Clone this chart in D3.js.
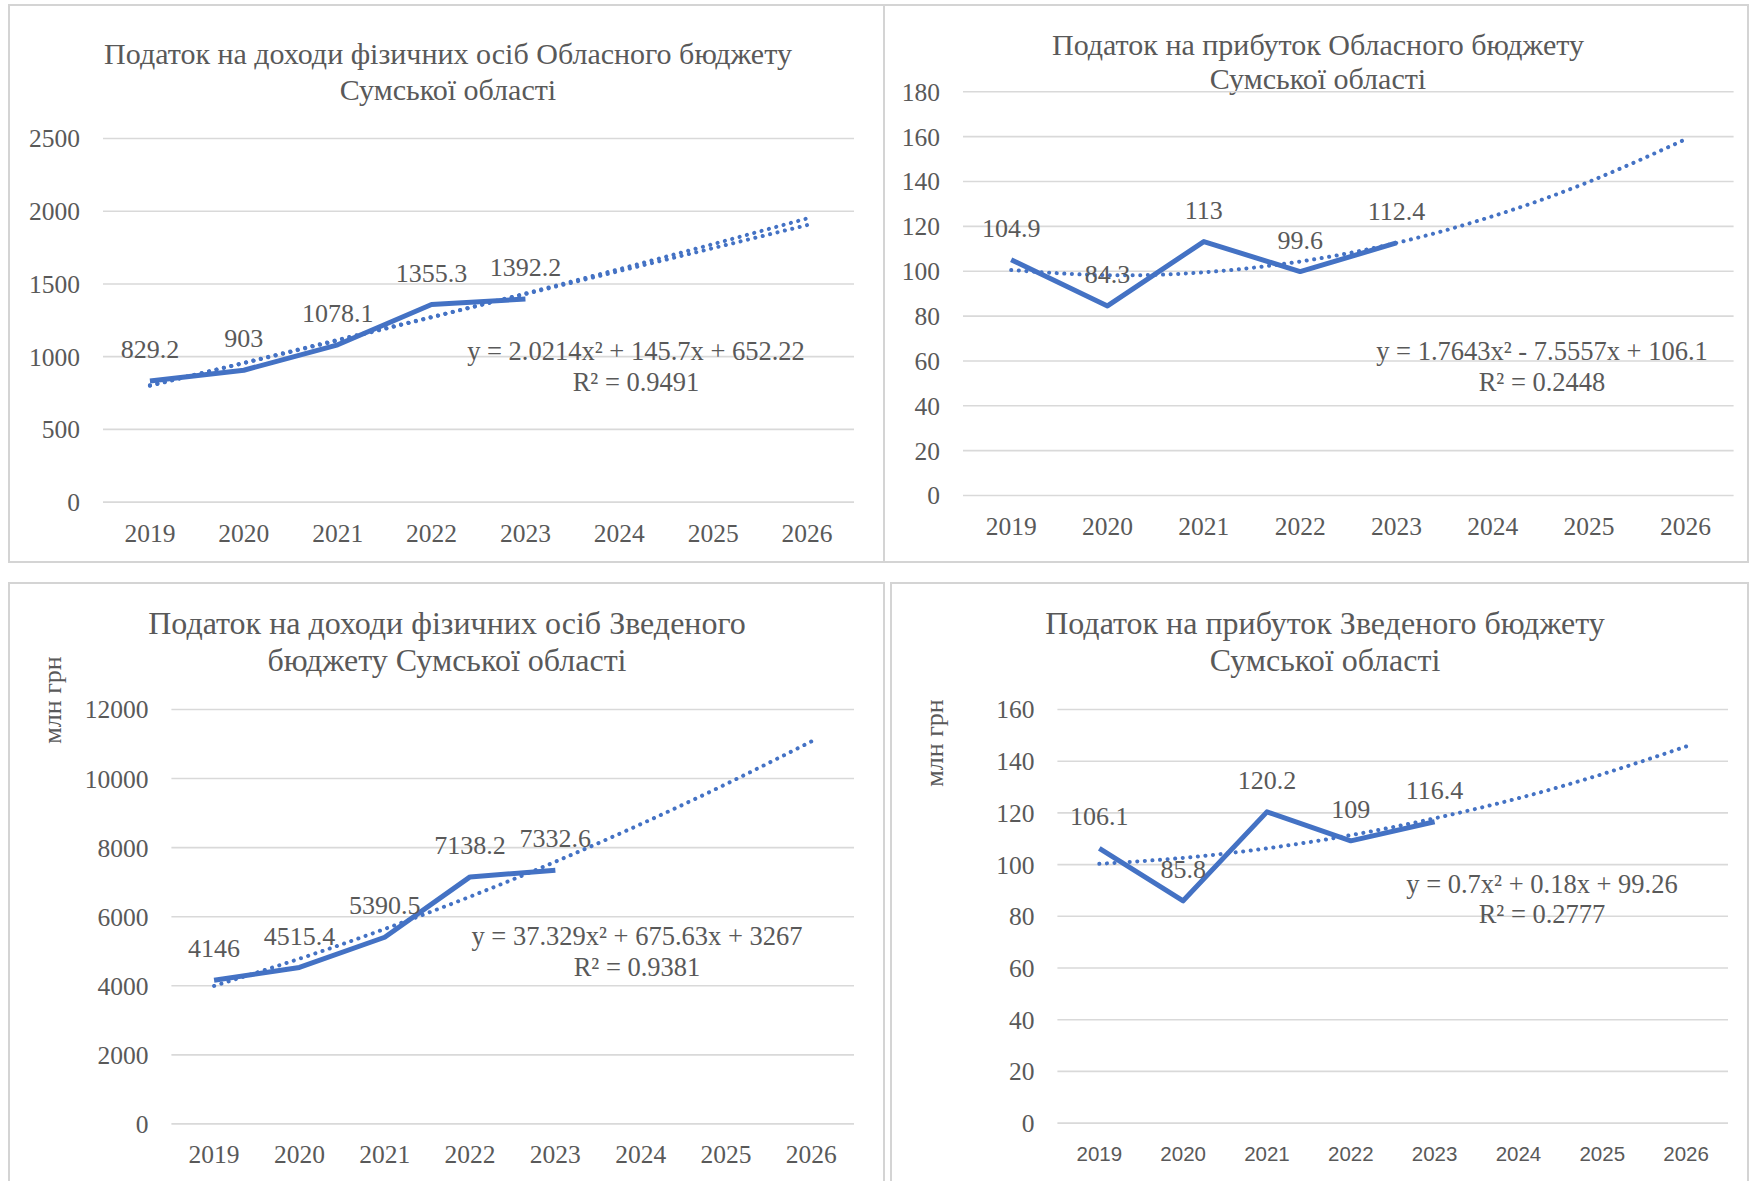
<!DOCTYPE html>
<html>
<head>
<meta charset="utf-8">
<script src="https://cdn.jsdelivr.net/npm/d3@7/dist/d3.min.js"></script>
<style>
  body { margin: 0; background: #fff; }
  text { font-family: "Liberation Serif", "Times New Roman", serif; fill: #595959; }
</style>
</head>
<body>
<div id="chart"></div>
<script>
// years on the category axis (2024-2026 are forecast only)
const years = ["2019", "2020", "2021", "2022", "2023", "2024", "2025", "2026"];

// ПДФО, обласний бюджет
const pitRegional = [829.2, 903, 1078.1, 1355.3, 1392.2];
const pitRegionalPoly = [800, 952, 1108, 1267, 1431, 1599, 1771, 1947];
const pitRegionalLinear = [796, 954, 1112, 1269, 1427, 1585, 1743, 1901];

// податок на прибуток, обласний бюджет
const profitRegional = [104.9, 84.3, 113, 99.6, 112.4];
const profitRegionalTrend = [100.3, 98.0, 99.3, 104.1, 112.4, 124.3, 139.7, 158.6];

// ПДФО, зведений бюджет
const pitConsolidated = [4146, 4515.4, 5390.5, 7138.2, 7332.6];
const pitConsolidatedTrend = [3980, 4768, 5630, 6567, 7578, 8665, 9826, 11061];

// податок на прибуток, зведений бюджет
const profitConsolidated = [106.1, 85.8, 120.2, 109, 116.4];
const profitConsolidatedTrend = [100.1, 102.4, 106.1, 111.2, 117.7, 125.5, 134.8, 145.5];

const width = 1749,
    height = 1181;

const blue = "#4472c4";
const serif = "'Liberation Serif', 'Times New Roman', serif";
const sans = "'Liberation Sans', Arial, sans-serif";

const svg = d3.select("#chart")
  .append("svg")
  .attr("width", width)
  .attr("height", height);

const panels = [
  {
    box: [9, 5, 875, 557],
    title: ["Податок на доходи фізичних осіб Обласного бюджету", "Сумської області"],
    titleX: 448, titleY: [53, 89], titleSize: 30,
    plot: [103, 854, 138, 501.6],
    max: 2500, step: 500,
    values: pitRegional,
    trends: [pitRegionalPoly, pitRegionalLinear],
    eq: ["y = 2.0214x² + 145.7x + 652.22", "R² = 0.9491"],
    eqX: 636, eqY: [351, 382]
  },
  {
    box: [884, 5, 864, 557],
    title: ["Податок на прибуток Обласного бюджету", "Сумської області"],
    titleX: 1318, titleY: [44, 78], titleSize: 30,
    plot: [963, 1733.6, 91.3, 495],
    max: 180, step: 20,
    values: profitRegional,
    trends: [profitRegionalTrend],
    eq: ["y = 1.7643x² - 7.5557x + 106.1", "R² = 0.2448"],
    eqX: 1542, eqY: [351, 382]
  },
  {
    box: [9, 583, 875, 610],
    title: ["Податок на доходи фізичних осіб Зведеного", "бюджету Сумської області"],
    titleX: 447, titleY: [623, 660], titleSize: 32,
    plot: [171.4, 854, 709, 1123.4],
    max: 12000, step: 2000,
    values: pitConsolidated,
    trends: [pitConsolidatedTrend],
    eq: ["y = 37.329x² + 675.63x + 3267", "R² = 0.9381"],
    eqX: 637, eqY: [936, 967],
    yTitle: "млн грн", yTitleX: 52, yTitleY: 700
  },
  {
    box: [891, 583, 857, 610],
    title: ["Податок на прибуток Зведеного бюджету", "Сумської області"],
    titleX: 1325, titleY: [623, 660], titleSize: 32,
    plot: [1057.4, 1728, 709, 1122.6],
    max: 160, step: 20,
    values: profitConsolidated,
    trends: [profitConsolidatedTrend],
    eq: ["y = 0.7x² + 0.18x + 99.26", "R² = 0.2777"],
    eqX: 1542, eqY: [884, 914],
    yTitle: "млн грн", yTitleX: 934, yTitleY: 743,
    sansYears: true
  }
];

panels.forEach(function (p) {
  const g = svg.append("g");

  g.append("rect")
    .attr("x", p.box[0]).attr("y", p.box[1])
    .attr("width", p.box[2]).attr("height", p.box[3])
    .attr("fill", "#fff")
    .attr("stroke", "#d4d4d4")
    .attr("stroke-width", 2);

  g.selectAll(".title")
    .data(p.title)
    .enter().append("text")
    .attr("x", p.titleX)
    .attr("y", function (d, i) { return p.titleY[i]; })
    .attr("dy", "0.35em")
    .attr("text-anchor", "middle")
    .style("font-size", p.titleSize + "px")
    .text(function (d) { return d; });

  const x = d3.scaleBand()
    .domain(years)
    .range([p.plot[0], p.plot[1]]);

  const y = d3.scaleLinear()
    .domain([0, p.max])
    .range([p.plot[3], p.plot[2]]);

  const ticks = d3.range(0, p.max + p.step, p.step);

  // gridlines
  g.append("g")
    .call(d3.axisLeft(y).tickValues(ticks).tickSize(-(p.plot[1] - p.plot[0])).tickFormat(""))
    .attr("transform", "translate(" + p.plot[0] + ",0)")
    .call(function (a) {
      a.select(".domain").remove();
      a.selectAll("line").attr("stroke", "#d9d9d9").attr("stroke-width", 1.6);
    });

  // y tick labels
  g.append("g")
    .attr("transform", "translate(" + (p.plot[0] - 23) + ",0)")
    .call(d3.axisLeft(y).tickValues(ticks).tickSize(0).tickPadding(0).tickFormat(d3.format("d")))
    .call(function (a) {
      a.select(".domain").remove();
      a.selectAll("text")
        .attr("fill", null)
        .attr("dy", "0.35em")
        .style("font-family", serif)
        .style("font-size", "25.5px");
    });

  // x tick labels
  g.append("g")
    .attr("transform", "translate(0," + (p.plot[3] + 31) + ")")
    .call(d3.axisBottom(x).tickSize(0).tickPadding(0))
    .call(function (a) {
      a.select(".domain").remove();
      a.selectAll("text")
        .attr("fill", null)
        .attr("dy", "0.35em")
        .style("font-size", p.sansYears ? "20.5px" : "25.5px")
        .style("font-family", p.sansYears ? sans : serif);
    });

  if (p.yTitle) {
    g.append("text")
      .attr("transform", "translate(" + p.yTitleX + "," + p.yTitleY + ") rotate(-90)")
      .attr("text-anchor", "middle")
      .attr("dy", "0.35em")
      .style("font-size", "26px")
      .text(p.yTitle);
  }

  const cx = function (d, i) { return x(years[i]) + x.bandwidth() / 2; };

  const line = d3.line()
    .x(cx)
    .y(function (d) { return y(d); });

  g.append("path")
    .datum(p.values)
    .attr("d", line)
    .attr("fill", "none")
    .attr("stroke", blue)
    .attr("stroke-width", 5)
    .attr("stroke-linejoin", "round");

  const trendLine = d3.line()
    .x(cx)
    .y(function (d) { return y(d); })
    .curve(d3.curveNatural);

  p.trends.forEach(function (t) {
    g.append("path")
      .datum(t)
      .attr("d", trendLine)
      .attr("fill", "none")
      .attr("stroke", blue)
      .attr("stroke-width", 4)
      .attr("stroke-linecap", "round")
      .attr("stroke-dasharray", "0.1 7.5");
  });

  g.selectAll(".lbl")
    .data(p.values)
    .enter().append("text")
    .attr("x", cx)
    .attr("y", function (d) { return y(d) - 32; })
    .attr("dy", "0.35em")
    .attr("text-anchor", "middle")
    .style("font-size", "26px")
    .text(function (d) { return d; });

  g.selectAll(".eq")
    .data(p.eq)
    .enter().append("text")
    .attr("x", p.eqX)
    .attr("y", function (d, i) { return p.eqY[i]; })
    .attr("dy", "0.35em")
    .attr("text-anchor", "middle")
    .style("font-size", "26.5px")
    .text(function (d) { return d; });
});
</script>
</body>
</html>
